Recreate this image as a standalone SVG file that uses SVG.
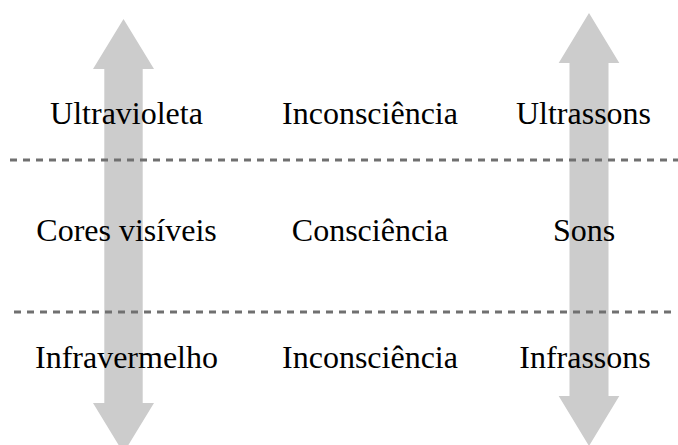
<svg xmlns="http://www.w3.org/2000/svg" width="678" height="445" viewBox="0 0 678 445">
<style>
.arrow{fill:#cccccc}
.dash{stroke:#707070;stroke-width:3;stroke-dasharray:7 6;fill:none}
text{font-family:"Liberation Serif","Times New Roman",serif;font-size:32px;fill:#000;text-anchor:middle}
</style>
<rect width="678" height="445" fill="#fff"/>
<g id="arrow-left">
<polygon class="arrow" points="123.5,19 154,69 142.7,69 142.7,403 154,403 123.5,453 93,403 104.3,403 104.3,69 93,69"/>
</g>
<g id="arrow-right">
<polygon class="arrow" points="589,13 619.3,63 608.5,63 608.5,396 619.3,396 589,446 558.7,396 569.5,396 569.5,63 558.7,63"/>
</g>
<g id="connectors">
<line class="dash" x1="10" y1="160" x2="678" y2="160"/>
<line class="dash" x1="14" y1="312" x2="675" y2="312"/>
</g>
<g id="row-top">
<text x="126.5" y="124">Ultravioleta</text>
<text x="370" y="124">Inconsciência</text>
<text x="583.5" y="124">Ultrassons</text>
</g>
<g id="row-middle">
<text x="126.5" y="241">Cores visíveis</text>
<text x="370" y="241">Consciência</text>
<text x="584" y="241">Sons</text>
</g>
<g id="row-bottom">
<text x="126.5" y="368">Infravermelho</text>
<text x="370" y="368">Inconsciência</text>
<text x="585" y="368">Infrassons</text>
</g>
</svg>
